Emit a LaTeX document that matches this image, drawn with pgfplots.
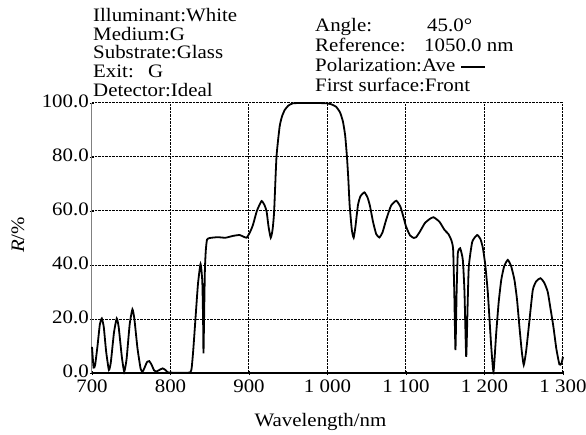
\documentclass[border=0pt]{standalone}
\usepackage{fontspec}
\setmainfont{Liberation Serif}[FakeStretch=1.1]
\usepackage{pgfplots}
\pgfplotsset{compat=1.18}

% reflectance curve
\pgfplotstableread{
nm R
700 9.7
702 2
704 3
707 10
710 18
712.5 20.2
715 17
718 8
721.5 1.1
724 4
728 15
731.5 20.2
734 17
738 6
741 0.5
744 5
748 18
751.5 23.6
754 20
758 9
762 1.5
764.5 0.5
767 2
770 4
773 4.4
776 3
779 1
781.5 0.5
785 1
790 1.7
794 1
797 0.2
810 0.1
825 0.2
827 2
829 8.5
832 20.9
835 33
838.3 40.4
840.5 34
841.5 20
842 7.3
842.5 15
843.8 38
845 45.5
846.5 49.4
850 50
860 50.3
870 50.1
880 50.8
888 51.1
893 50.5
897 50.1
901 52
905 54.8
910 60
916 63.7
920 62
922.5 59.7
925 54
927.7 50.1
930 53
932 59.7
935 80
939 91.2
942 95
945.5 97.4
950 99
956 99.9
970 100
985 100
998.6 99.9
1005 99.5
1011 98.6
1016 96.5
1019.7 93.1
1022.5 88
1024.8 80
1026.5 72
1028.2 62.2
1031 53
1033.3 50.1
1035.5 54
1038.8 62.2
1042 65.5
1047 66.9
1051 65
1054 62
1058 56
1062 51.5
1066 50.2
1070 52
1075 57
1081 62
1087.7 63.8
1093 61.5
1097 57.5
1100 54.3
1105 51
1110 50
1113 50.3
1118 52.5
1124 55.5
1130 57
1135 57.7
1142.7 56
1149 53
1154 51.5
1157.6 49.3
1160 46
1161.5 30
1163 8.5
1164.5 30
1166 44.3
1169 46.2
1172.4 41.9
1174.5 30
1176.7 6
1178.5 25
1180 39.4
1184.4 48.6
1190.7 51.1
1195 49.5
1198 46.2
1201 40
1204.3 29.5
1208.6 9.7
1211.5 0.5
1214.9 14.7
1218 26
1221.3 34.4
1225 39.5
1229.7 41.9
1234 39.5
1238.2 34.4
1241.5 27
1244.5 17.1
1247.5 8
1250 3
1253 8
1256.4 17.1
1261.5 30.7
1266 34
1271.3 35.1
1276 33.5
1280.5 30.1
1284 24
1287.8 17.1
1291.5 9
1295.4 3.2
1298 3.5
1300 6
}\refl

\begin{document}
\fontsize{19}{19}\selectfont
\begin{tikzpicture}
\begin{axis}[
    at={(0pt,0pt)}, anchor=south west,
    scale only axis,
    width=471pt, height=270pt,
    xmin=700, xmax=1300,
    ymin=0, ymax=100,
    xtick={700,800,...,1300},
    ytick={0,20,...,100},
    axis x line*=bottom,
    axis y line*=left,
    x axis line style={-, black, line width=1.2pt},
    y axis line style={-, gray, line width=1pt},
    grid=major,
    grid style={densely dotted, black, line width=1pt},
    tick align=center,
    major tick length=4pt,
    tick style={black, line width=0.6pt},
    /pgf/number format/assume math mode=true,
    xticklabel style={inner sep=0pt, yshift=-5pt,
        /pgf/number format/.cd, fixed, precision=0, 1000 sep={\ }, /tikz/.cd},
    yticklabel style={inner sep=0pt, xshift=-1pt, yshift=1.5pt,
        /pgf/number format/.cd, fixed, fixed zerofill, precision=1, /tikz/.cd},
    clip=false,
  ]
  \addplot[black, line width=1.8pt, smooth, tension=0.3] table[x=nm, y=R] {\refl};
\end{axis}

% header text
\node[anchor=base west, inner sep=0pt] at (1pt,351.3pt) {Illuminant:White};
\node[anchor=base west, inner sep=0pt] at (1pt,332.6pt) {Medium:G};
\node[anchor=base west, inner sep=0pt] at (1pt,314pt) {Substrate:Glass};
\node[anchor=base west, inner sep=0pt] at (1pt,295.3pt) {Exit:\hspace{0.75em}G};
\node[anchor=base west, inner sep=0pt] at (1pt,276.5pt) {Detector:Ideal};

\node[anchor=base west, inner sep=0pt] at (223pt,341.3pt) {Angle:};
\node[anchor=base west, inner sep=0pt] at (335pt,341.3pt) {45.0°};
\node[anchor=base west, inner sep=0pt] at (223pt,321.3pt) {Reference:};
\node[anchor=base west, inner sep=0pt] at (332pt,321.3pt) {1050.0 nm};
\node[anchor=base west, inner sep=0pt] at (223pt,301.3pt) {Polarization:Ave};
\draw[black, line width=1.2pt] (369pt,306pt) -- (393pt,306pt);
\node[anchor=base west, inner sep=0pt] at (223pt,281pt) {First surface:Front};

% axis labels
\node[anchor=base] at (228.5pt,-53.7pt) {Wavelength/nm};
\node[rotate=90] at (-74pt,138pt) {\textit{R}/\%};

\pgfresetboundingbox
\path[use as bounding box] (-92pt,-61pt) rectangle (494pt,373pt);
\end{tikzpicture}
\end{document}
